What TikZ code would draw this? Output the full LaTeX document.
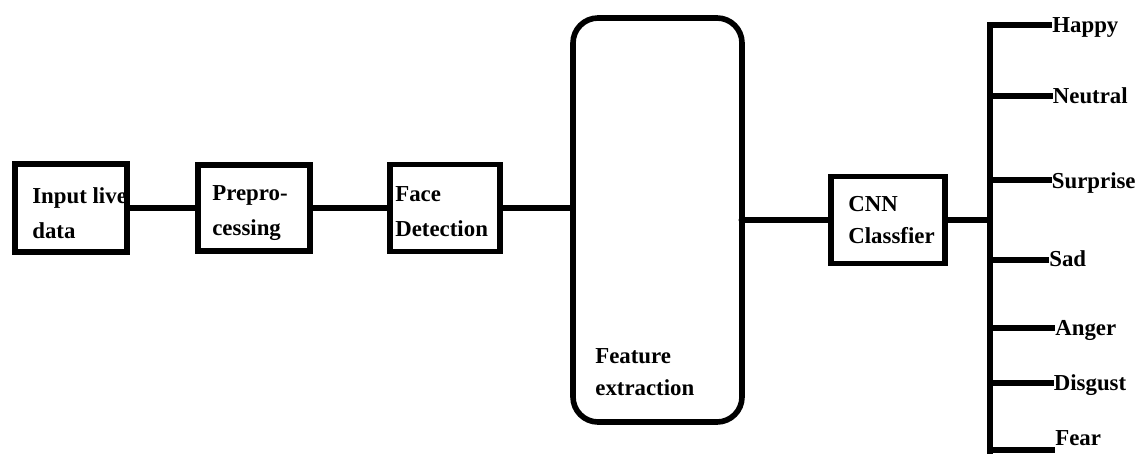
\documentclass[tikz,border=0pt]{standalone}
\usepackage{fontspec}
\setmainfont{Liberation Serif}
\usetikzlibrary{positioning}
\tikzstyle{stage} = [rectangle, draw=black, fill=white, line width=3.2pt,
outer sep=0pt, inner sep=0pt]
\tikzstyle{boxtext} = [inner sep=0pt, align=left, font=\fontsize{13}{20}\selectfont\bfseries]
\tikzstyle{tighttext} = [boxtext, font=\fontsize{13}{18}\selectfont\bfseries]
\tikzstyle{class} = [inner xsep=0.05cm, inner ysep=0pt, font=\fontsize{13}{13}\selectfont\bfseries]
\tikzstyle{wire} = [draw=black, line width=3pt]
\newcommand{\joinup}[3][]{ %
  % Join every node of #2 to every node of #3.
  \foreach \x in {#2} { %
    \foreach \y in {#3} { %
      \path (\x) edge [wire,#1] (\y) ;%
    } ;
  } ;
}

\begin{document}
\begin{tikzpicture}
  \useasboundingbox (-1.42,4.16) rectangle (21.38,-4.9);

  \node[stage, minimum width=2.24cm, minimum height=1.76cm] (inp) at (0,0) {};
  \node[stage, right=1.42cm of inp, minimum width=2.24cm, minimum height=1.72cm] (pre) {};
  \node[stage, right=1.6cm of pre, minimum width=2.2cm, minimum height=1.74cm] (face) {};
  \node[stage, right=1.46cm of face, yshift=-0.24cm, rounded corners=0.5cm,
    minimum width=3.38cm, minimum height=8.08cm] (feat) {};
  \node[stage, right=1.78cm of feat, minimum width=2.28cm, minimum height=1.74cm] (cnn) {};

  \node[boxtext, right=0.34cm of inp.west, yshift=-0.1cm] (inptxt) {Input live\\data};
  \node[boxtext, right=0.28cm of pre.west, yshift=-0.1cm] (pretxt) {Prepro-\\cessing};
  \node[boxtext, right=0.1cm of face.west, yshift=-0.08cm] (facetxt) {Face\\Detection};
  \node[tighttext, anchor=west] (feattxt) at ([xshift=0.44cm, yshift=-3.04cm]feat.west) {Feature\\extraction};
  \node[tighttext, right=0.34cm of cnn.west] (cnntxt) {CNN\\Classfier};

  \joinup {inp} {pre};
  \joinup {pre} {face};
  \draw[wire] (face) -- (face -| feat.west);
  \draw[wire] (cnn -| feat.east) -- (cnn);
  \fill (cnn -| feat.east) circle (0.07cm);

  % output bus
  \coordinate[right=0.9cm of cnn.east] (bus);
  \coordinate (bustop) at ([yshift=3.9cm]bus);
  \coordinate (busend) at ([yshift=-4.64cm]bus);
  \draw[wire] (cnn) -- (bus);
  \draw[wire, line cap=rect] (bustop) -- (busend);

  \foreach \cls/\dy/\dx/\drop in {Happy/3.9/1.19/0.14, Neutral/2.48/1.2/0.14,
    Surprise/0.8/1.18/0.16, Sad/-0.8/1.13/0.12, Anger/-2.16/1.25/0.14,
    Disgust/-3.26/1.22/0.14, Fear/-4.6/1.25/-0.1} {
    \coordinate (t-\cls) at ([yshift=\dy cm]bus);
    \node[class, anchor=base west] (\cls) at ([xshift=\dx cm, yshift=-\drop cm]t-\cls) {\cls};
    \draw[wire, line cap=rect] (t-\cls) -- (t-\cls -| \cls.west);
  }
\end{tikzpicture}
\end{document}
